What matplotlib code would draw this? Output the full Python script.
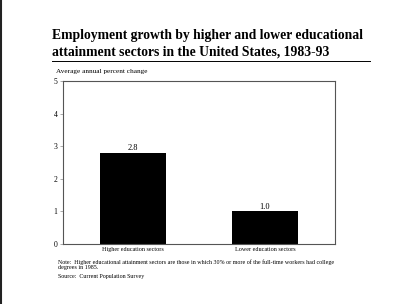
import matplotlib.pyplot as plt
from matplotlib.lines import Line2D

# Données
categories = ["Higher education sectors", "Lower education sectors"]
values = [2.8, 1.0]
yticks = [0, 1, 2, 3, 4, 5]

title = ("Employment growth by higher and lower educational\n"
         "attainment sectors in the United States, 1983-93")
ylabel = "Average annual percent change"
note = ("Note:  Higher educational attainment sectors are those in which 30% or more of the full-time workers had college\n"
        "degrees in 1985.")
source = "Source:  Current Population Survey"

plt.rcParams['font.family'] = ['Liberation Serif', 'DejaVu Serif']

fig = plt.figure(figsize=(4, 3.04), dpi=100)
W, H = 400, 304

# axes : gauche 63px, droite 335px, haut 81px, bas 244px
ax = fig.add_axes([63 / W, 1 - 244 / H, (335 - 63) / W, (244 - 81) / H])
x = range(len(categories))
ax.bar(x, values, width=0.5, color='black')
for i, v in zip(x, values):
    ax.text(i, v + 0.02, f"{v:.1f}", ha='center', va='bottom', fontsize=6)

ax.set_xlim(-0.53, 1.53)
ax.set_ylim(0, 5)
ax.set_yticks(yticks)
ax.set_yticklabels([str(t) for t in yticks], fontsize=5.5)
ax.set_xticks(list(x))
ax.set_xticklabels(categories, fontsize=4.4)
ax.tick_params(axis='x', length=0, pad=2)
ax.tick_params(axis='y', length=2, width=0.5, pad=2, color='#888888')
for s in ax.spines.values():
    s.set_linewidth(0.8)
    s.set_color('#555555')

fig.text(52 / W, 1 - 29 / H, title, fontsize=9.8, fontweight='bold',
         ha='left', va='top', linespacing=1.4)
fig.add_artist(Line2D([52 / W, 370 / W], [1 - 61 / H, 1 - 61 / H],
                      color='black', linewidth=0.7))
fig.text(56 / W, 1 - 71 / H, ylabel, fontsize=5.2, ha='left', va='center')
fig.text(58 / W, 1 - 259 / H, note, fontsize=4.3, ha='left', va='top', linespacing=1.2)
fig.text(58 / W, 1 - 274 / H, source, fontsize=4.3, ha='left', va='top')

# bord noir du scan à gauche
fig.add_artist(Line2D([1 / W, 1 / W], [0, 1], color='#222222', linewidth=1.5))

fig.savefig("out.png", dpi=100)
